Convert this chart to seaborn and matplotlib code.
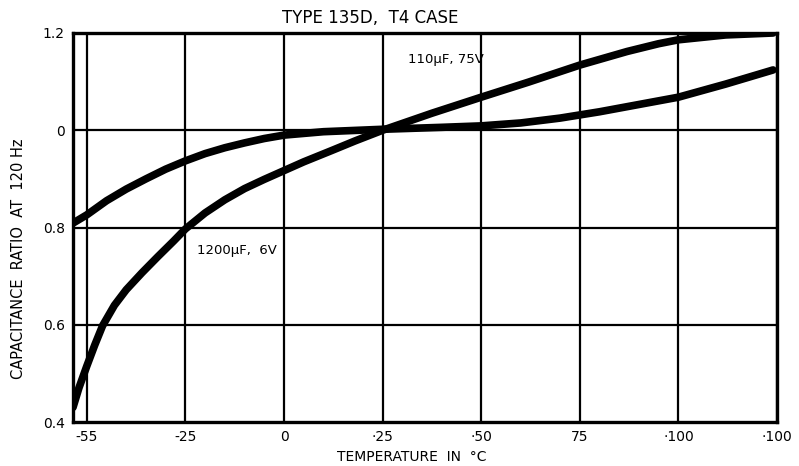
import numpy as np
import pandas as pd
import matplotlib
matplotlib.use("Agg")
import matplotlib.pyplot as plt
import seaborn as sns

# Data (temperature °C, capacitance ratio)
temp_a = [-53.5, -50, -45, -40, -35, -30, -25, -20, -15, -10, -5, 0, 10, 25, 40, 50,
          60, 70, 80, 90, 100, 112, 124]
ratio_a = [0.809, 0.826, 0.855, 0.879, 0.900, 0.920, 0.937, 0.952, 0.964, 0.974, 0.983, 0.990,
           0.997, 1.002, 1.006, 1.009, 1.015, 1.025, 1.038, 1.053, 1.068, 1.095, 1.124]

temp_b = [-53.5, -52, -50, -48, -46, -43, -40, -36, -32, -28, -25, -20, -15, -10, -5, 0,
          5, 12, 18, 25, 37.5, 50, 62, 75, 87, 95, 100, 112, 124]
ratio_b = [0.43, 0.47, 0.515, 0.558, 0.598, 0.64, 0.672, 0.707, 0.740, 0.772, 0.797, 0.830,
           0.857, 0.880, 0.899, 0.917, 0.935, 0.958, 0.978, 1.0, 1.035, 1.068, 1.099, 1.134,
           1.162, 1.178, 1.186, 1.196, 1.2]

x_ticks = [-50, -25, 0, 25, 50, 75, 100, 125]
x_tick_labels = ["-55", "-25", "0", "·25", "·50", "75", "·100", "·100"]
y_ticks = [0.4, 0.6, 0.8, 1.0, 1.2]
y_tick_labels = ["0.4", "0.6", "0.8", "0", "1.2"]

series_a = "110µF, 75V curve"
series_b = "1200µF, 6V curve"

df = pd.concat([
    pd.DataFrame({"temp": temp_a, "ratio": ratio_a, "series": series_a}),
    pd.DataFrame({"temp": temp_b, "ratio": ratio_b, "series": series_b}),
])

sns.set_style("white")
plt.rcParams["font.family"] = ["DejaVu Sans"]
plt.rcParams["text.color"] = "black"
plt.rcParams["xtick.color"] = "black"
plt.rcParams["ytick.color"] = "black"

fig = plt.figure(figsize=(7.99, 4.66), dpi=100)
ax = fig.add_axes([73 / 799, 1 - 422 / 466, (777 - 73) / 799, (422 - 33) / 466])

ax.set_xlim(-53.5, 124.5)
ax.set_ylim(0.4, 1.2)

for xv in x_ticks:
    ax.axvline(xv, color="black", lw=1.6, zorder=1)
for yv in [0.6, 0.8, 1.0]:
    ax.axhline(yv, color="black", lw=1.6, zorder=1)

sns.lineplot(data=df, x="temp", y="ratio", hue="series", units="series",
             estimator=None, palette=["black", "black"], lw=5.5, legend=False,
             ax=ax, zorder=3, sort=True)
for ln in ax.lines:
    ln.set_solid_capstyle("round")
    ln.set_solid_joinstyle("round")

ax.set_xticks(x_ticks)
ax.set_xticklabels(x_tick_labels, fontsize=10, color="black")
ax.set_yticks(y_ticks)
ax.set_yticklabels(y_tick_labels, fontsize=10, color="black")
ax.tick_params(length=0, pad=6)
ax.set_xlabel("")
ax.set_ylabel("")

for s in ax.spines.values():
    s.set_color("black")
    s.set_linewidth(2.4)

ax.text(31.5, 1.145, "110µF, 75V", fontsize=9.5, va="center", ha="left", color="black")
ax.text(-22, 0.753, "1200µF,  6V", fontsize=9.5, va="center", ha="left", color="black")

fig.text(370 / 799, 1 - 18 / 466, "TYPE 135D,  T4 CASE", ha="center", va="center",
         fontsize=12, color="black")
fig.text(412 / 799, 1 - 457 / 466, "TEMPERATURE  IN  °C", ha="center", va="center",
         fontsize=10, color="black")
fig.text(19 / 799, 1 - 259 / 466, "CAPACITANCE  RATIO  AT  120 Hz", ha="center", va="center",
         rotation=90, fontsize=10.5, color="black")

fig.savefig("out.png", dpi=100, facecolor="white")
